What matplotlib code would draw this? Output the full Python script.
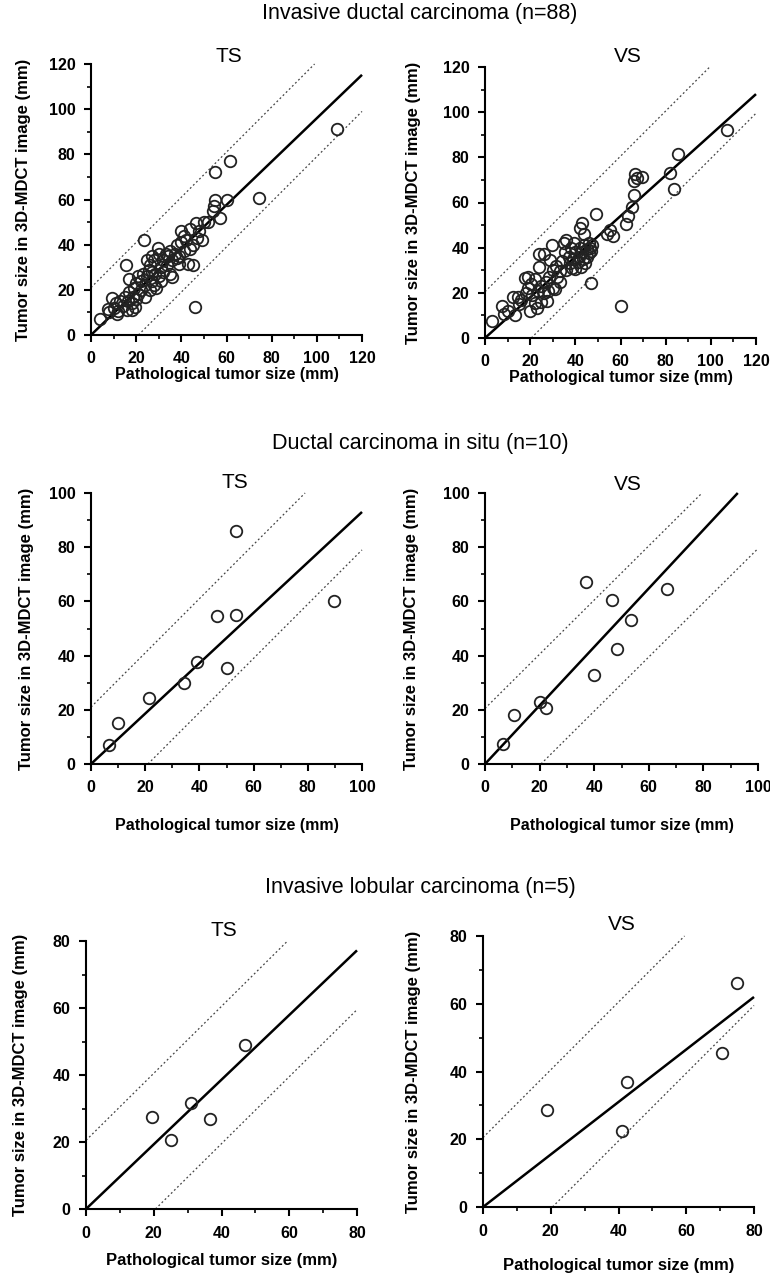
import matplotlib
matplotlib.use('Agg')
import matplotlib.pyplot as plt
import matplotlib.ticker as mtick
import numpy as np

plt.rcParams['font.family'] = ['Liberation Sans', 'DejaVu Sans']

# ---------- DATA ----------
# Invasive ductal carcinoma (n=88)
idc_ts_x = [4, 7.5, 8, 9.5, 10, 11, 11.5, 12, 13, 14, 15, 15.5, 16, 16.5, 17, 17, 18, 18, 18.5, 19,
            19.5, 20, 20, 21, 21, 22, 22, 23, 23.5, 24, 24, 25, 25, 25.5, 26, 26, 27, 27, 28, 28,
            28.5, 29, 29.5, 30, 30, 31, 31, 32, 32, 33, 33.5, 34, 35, 36, 36, 37, 38, 38, 39, 39,
            40, 40, 41, 41, 42, 43, 44, 44, 45, 45, 46, 46.5, 48, 49, 50, 52, 54, 54.5, 55, 55,
            57, 60, 61.5, 74.5, 109, 35, 47, 27]
idc_ts_y = [7, 11.5, 10, 16.5, 12, 14, 9.5, 10.5, 15, 13, 17, 31, 11, 15, 25, 19, 11, 14, 17, 21,
            12.5, 16, 23, 18, 26, 20, 24, 27, 42, 17, 22, 26, 33, 29, 31, 20, 24, 35, 33, 22,
            27, 21, 38.5, 26, 36, 30, 24, 33, 28, 36, 31, 35, 27, 25.5, 33, 36, 40, 34, 31.5, 35,
            46, 41, 44, 37, 42, 31.5, 38, 47, 31, 40, 12.5, 49.5, 46, 42, 50, 50, 55, 57, 60, 72,
            52, 60, 77, 60.5, 91, 37, 43, 28]
idc_vs_x = [3, 7.5, 8.5, 10, 12.5, 13.5, 14.5, 15, 16, 17.5, 19, 19, 20, 20.5, 21, 22, 22, 23, 23.5, 24,
            24, 25, 25, 26, 26, 27, 27.5, 28, 28.5, 29, 29.5, 30, 30, 31, 31.5, 32, 33, 34, 35, 35.5,
            36, 36, 37, 37.5, 38, 38.5, 39, 39.5, 40, 40, 41, 41.5, 42, 42, 42.5, 43, 43, 43.5, 44, 44,
            45, 45, 46, 46, 46.5, 47, 47, 47.5, 49, 54, 55.5, 56.5, 60, 62.5, 63.5, 65, 66, 66, 66.5, 67.5,
            69.5, 82, 83.5, 85.5, 107, 33, 18, 44.5]
idc_vs_y = [7.5, 14, 10.5, 12, 18, 10, 18, 15, 17, 26.5, 27, 22, 12, 24, 19, 15.5, 26, 13.5, 21, 31.5,
            37, 16, 23, 37, 20, 25, 16.5, 21, 27, 34.5, 41, 30, 22, 21.5, 32, 27, 29.5, 34, 42, 38,
            43.5, 30, 36, 33, 40, 31, 35, 42, 38, 30.5, 33.5, 36, 48.5, 40, 31.5, 51, 38, 35, 46, 41,
            36, 39.5, 37.5, 42, 40, 24.5, 38.5, 41, 55, 46, 48, 45, 14, 50.5, 54, 58, 63.5, 69.5, 72.5, 71,
            71.5, 73, 66, 81.5, 92, 25, 20, 33]

# Ductal carcinoma in situ (n=10)
dcis_ts_x = [6.5, 10, 21.5, 34.5, 39, 50, 46.5, 53.5, 53.5, 89.5]
dcis_ts_y = [7, 15, 24.5, 30, 37.5, 35.5, 54.5, 55, 86, 60]
dcis_vs_x = [6.5, 10.5, 20, 22.5, 37, 40, 46.5, 48.5, 53.5, 66.5]
dcis_vs_y = [7.5, 18, 23, 20.5, 67, 33, 60.5, 42.5, 53, 64.5]

# Invasive lobular carcinoma (n=5)
ilc_ts_x = [19.5, 25, 31, 36.5, 47]
ilc_ts_y = [27.5, 20.5, 31.5, 27, 49]
ilc_vs_x = [19, 41, 42.5, 70.5, 75]
ilc_vs_y = [28.5, 22.5, 37, 45.5, 66]

# regression slopes and dashed-limit offsets
slopes = [0.96, 0.90, 0.93, 1.08, 0.965, 0.775]
offsets = [21, 20.5, 21, 20.5, 20.5, 20.5]

group_titles = ['Invasive ductal carcinoma (n=88)', 'Ductal carcinoma in situ (n=10)',
                'Invasive lobular carcinoma (n=5)']
panel_names = ['TS', 'VS']
axis_max = [120, 100, 80]

panels = [(idc_ts_x, idc_ts_y), (idc_vs_x, idc_vs_y),
          (dcis_ts_x, dcis_ts_y), (dcis_vs_x, dcis_vs_y),
          (ilc_ts_x, ilc_ts_y), (ilc_vs_x, ilc_vs_y)]

# ---------- LAYOUT (pixels) ----------
W, H = 770, 1274
# left, top, width, height of each axes in pixels
boxes = [(91, 64, 271, 271), (485, 67, 271, 271),
         (91, 493, 271, 271), (485, 493, 273, 271),
         (86, 941, 271, 268), (483, 936, 271, 271)]
title_pos = [(420, 14), (420, 443), (420, 888)]
sub_pos = [(229, 57), (628, 56), (235, 483), (628, 485), (224, 930), (622, 925)]
ylab_x = [-0.22, -0.236, -0.21, -0.24, -0.215, -0.23]
xlab_y = [-0.118, -0.118, -0.2, -0.2, -0.165, -0.19]
xpads = [6.5, 6.5, 6.5, 6.5, 7.5, 7.5]

fig = plt.figure(figsize=(W / 100, H / 100), dpi=100)

for i, (xs, ys) in enumerate(panels):
    l, t, w, h = boxes[i]
    ax = fig.add_axes([l / W, (H - t - h) / H, w / W, h / H])
    m = axis_max[i // 2]
    s = slopes[i]
    off = offsets[i]

    # regression line and limits
    x_end = min(m, m / s)
    ax.plot([0, x_end], [0, s * x_end], color='black', lw=1.8, solid_capstyle='butt', clip_on=False)
    ax.plot([0, m - off], [off, m], color='#444444', lw=0.9, ls=(0, (1.5, 2)), clip_on=False)
    ax.plot([off, m], [0, m - off], color='#444444', lw=0.9, ls=(0, (1.5, 2)), clip_on=False)

    ax.plot(xs, ys, 'o', mfc='none', mec='#222222', mew=1.3, ms=8.3, clip_on=False)

    ax.set_xlim(0, m)
    ax.set_ylim(0, m)
    ax.xaxis.set_major_locator(mtick.MultipleLocator(20))
    ax.yaxis.set_major_locator(mtick.MultipleLocator(20))
    ax.xaxis.set_minor_locator(mtick.MultipleLocator(10))
    ax.yaxis.set_minor_locator(mtick.MultipleLocator(10))
    ax.spines['top'].set_visible(False)
    ax.spines['right'].set_visible(False)
    ax.spines['left'].set_linewidth(1.5)
    ax.spines['bottom'].set_linewidth(1.5)
    ax.tick_params(which='major', direction='out', length=5, width=1.5, labelsize=11.5)
    ax.tick_params(axis='x', which='major', pad=xpads[i])
    ax.tick_params(axis='y', which='major', pad=6)
    ax.tick_params(which='minor', direction='out', length=3, width=1.2)
    for lbl in ax.get_xticklabels() + ax.get_yticklabels():
        lbl.set_fontweight('bold')

    ax.set_ylabel('Tumor size in 3D-MDCT image (mm)', fontsize=12, fontweight='bold')
    ax.yaxis.set_label_coords(ylab_x[i], 0.5)
    ax.set_xlabel('Pathological tumor size (mm)', fontsize=11.5 if i < 4 else 12, fontweight='bold')
    ax.xaxis.set_label_coords(0.5, xlab_y[i])

    sx, sy = sub_pos[i]
    fig.text(sx / W, 1 - sy / H, panel_names[i % 2], fontsize=15, ha='center', va='center')

for k, title in enumerate(group_titles):
    tx, ty = title_pos[k]
    fig.text(tx / W, 1 - ty / H, title, fontsize=15.5, ha='center', va='center')

plt.savefig('out.png', dpi=100)
